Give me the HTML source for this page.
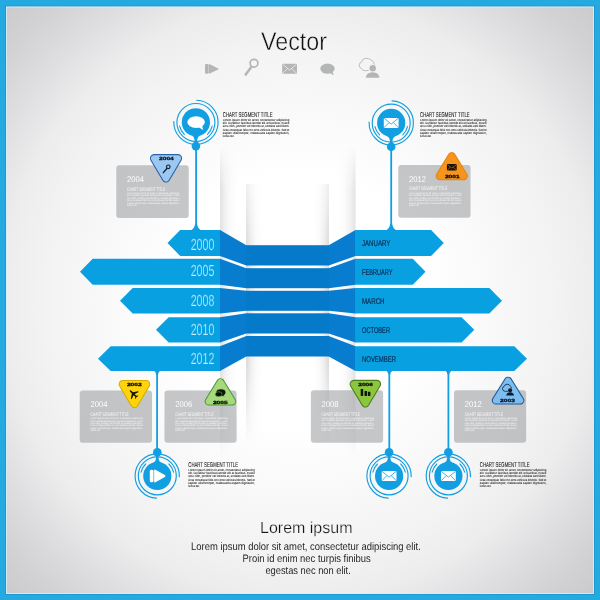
<!DOCTYPE html>
<html><head><meta charset="utf-8"><title>Vector</title>
<style>
html,body{margin:0;padding:0;width:600px;height:600px;overflow:hidden;background:#fff;}
svg{display:block}
text{font-family:"Liberation Sans",sans-serif;text-rendering:geometricPrecision;}
</style></head><body>
<svg width="600" height="600" viewBox="0 0 600 600" style="opacity:0.999">
<defs>
<radialGradient id="bg" cx="300" cy="300" r="424" gradientUnits="userSpaceOnUse">
<stop offset="0" stop-color="#ffffff"/>
<stop offset="0.30" stop-color="#ffffff"/>
<stop offset="0.45" stop-color="#f9f9f9"/>
<stop offset="0.58" stop-color="#f4f4f4"/>
<stop offset="0.70" stop-color="#ededee"/>
<stop offset="0.80" stop-color="#dfdfe1"/>
<stop offset="0.90" stop-color="#d2d2d4"/>
<stop offset="1" stop-color="#c9c9cb"/>
</radialGradient>
<linearGradient id="shR" x1="0" x2="1" y1="0" y2="0">
<stop offset="0" stop-color="#000" stop-opacity="0.115"/>
<stop offset="0.3" stop-color="#000" stop-opacity="0.055"/>
<stop offset="0.6" stop-color="#000" stop-opacity="0.018"/>
<stop offset="1" stop-color="#000" stop-opacity="0"/>
</linearGradient>
<linearGradient id="shL" x1="1" x2="0" y1="0" y2="0">
<stop offset="0" stop-color="#000" stop-opacity="0.115"/>
<stop offset="0.3" stop-color="#000" stop-opacity="0.055"/>
<stop offset="0.6" stop-color="#000" stop-opacity="0.018"/>
<stop offset="1" stop-color="#000" stop-opacity="0"/>
</linearGradient>
<linearGradient id="cR" x1="0" x2="1" y1="0" y2="0">
<stop offset="0" stop-color="#000" stop-opacity="0.16"/>
<stop offset="0.3" stop-color="#000" stop-opacity="0.075"/>
<stop offset="0.6" stop-color="#000" stop-opacity="0.025"/>
<stop offset="1" stop-color="#000" stop-opacity="0"/>
</linearGradient>
<linearGradient id="cL" x1="1" x2="0" y1="0" y2="0">
<stop offset="0" stop-color="#000" stop-opacity="0.16"/>
<stop offset="0.3" stop-color="#000" stop-opacity="0.075"/>
<stop offset="0.6" stop-color="#000" stop-opacity="0.025"/>
<stop offset="1" stop-color="#000" stop-opacity="0"/>
</linearGradient>
<linearGradient id="vfade" x1="0" x2="0" y1="146" y2="458" gradientUnits="userSpaceOnUse">
<stop offset="0" stop-color="#fff" stop-opacity="0"/>
<stop offset="0.07" stop-color="#fff" stop-opacity="0.55"/>
<stop offset="0.14" stop-color="#fff" stop-opacity="1"/>
<stop offset="0.74" stop-color="#fff" stop-opacity="1"/>
<stop offset="0.88" stop-color="#fff" stop-opacity="0.6"/>
<stop offset="1" stop-color="#fff" stop-opacity="0"/>
</linearGradient>
<mask id="mfold"><rect x="200" y="146" width="180" height="312" fill="url(#vfade)"/></mask>
<linearGradient id="vfade2" x1="0" x2="0" y1="184" y2="445" gradientUnits="userSpaceOnUse">
<stop offset="0" stop-color="#fff" stop-opacity="0.4"/>
<stop offset="0.23" stop-color="#fff" stop-opacity="0.9"/>
<stop offset="0.30" stop-color="#fff" stop-opacity="1"/>
<stop offset="0.66" stop-color="#fff" stop-opacity="1"/>
<stop offset="0.80" stop-color="#fff" stop-opacity="0.6"/>
<stop offset="1" stop-color="#fff" stop-opacity="0"/>
</linearGradient>
<mask id="mcen"><rect x="240" y="184" width="100" height="261" fill="url(#vfade2)"/></mask>
</defs>

<rect x="0" y="0" width="600" height="600" fill="#25a9e1"/>
<rect x="6" y="6.5" width="588" height="587.5" fill="url(#bg)"/>
<rect x="5.5" y="6" width="589" height="588.5" fill="none" stroke="#1b93cc" stroke-width="1" opacity="0.7"/>
<rect x="6.5" y="7" width="587" height="586.5" fill="none" stroke="#d6effa" stroke-width="1" opacity="0.8"/>
<g mask="url(#mfold)">
<rect x="220" y="146" width="17" height="312" fill="url(#shR)"/>
<rect x="338.5" y="146" width="17" height="312" fill="url(#shL)"/>
</g>
<g mask="url(#mcen)">
<rect x="246" y="184" width="83" height="261" fill="#fff"/>
<rect x="246" y="184" width="16" height="261" fill="url(#cR)"/>
<rect x="313" y="184" width="16" height="261" fill="url(#cL)"/>
</g>
<polygon points="167.5,242.95 180.2,230 220.3,230 220.3,255.9 180.2,255.9" fill="#09a0e2"/>
<polygon points="443.8,242.95 431.1,230 355.2,230 355.2,255.9 431.1,255.9" fill="#09a0e2"/>
<polygon points="220,230 246.3,245.2 246.3,265.5 220,255.9" fill="#087dcf"/>
<polygon points="355.5,230 328.7,245.2 328.7,265.5 355.5,255.9" fill="#087dcf"/>
<rect x="246" y="245.2" width="83" height="20.30000000000001" fill="#0579ca"/>
<polygon points="80,271.8 92.7,258.8 220.3,258.8 220.3,284.8 92.7,284.8" fill="#09a0e2"/>
<polygon points="425.5,271.8 412.8,258.8 355.2,258.8 355.2,284.8 412.8,284.8" fill="#09a0e2"/>
<polygon points="220,258.8 246.3,268.2 246.3,288.2 220,284.8" fill="#087dcf"/>
<polygon points="355.5,258.8 328.7,268.2 328.7,288.2 355.5,284.8" fill="#087dcf"/>
<rect x="246" y="268.2" width="83" height="20.0" fill="#0579ca"/>
<polygon points="120,300.8 132.7,288 220.3,288 220.3,313.6 132.7,313.6" fill="#09a0e2"/>
<polygon points="502,300.8 489.3,288 355.2,288 355.2,313.6 489.3,313.6" fill="#09a0e2"/>
<polygon points="220,288 246.3,290.8 246.3,310.8 220,313.6" fill="#087dcf"/>
<polygon points="355.5,288 328.7,290.8 328.7,310.8 355.5,313.6" fill="#087dcf"/>
<rect x="246" y="290.8" width="83" height="20.0" fill="#0579ca"/>
<polygon points="156,329.79999999999995 168.7,317.2 220.3,317.2 220.3,342.4 168.7,342.4" fill="#09a0e2"/>
<polygon points="474.3,329.79999999999995 461.6,317.2 355.2,317.2 355.2,342.4 461.6,342.4" fill="#09a0e2"/>
<polygon points="220,317.2 246.3,313.3 246.3,333.5 220,342.4" fill="#087dcf"/>
<polygon points="355.5,317.2 328.7,313.3 328.7,333.5 355.5,342.4" fill="#087dcf"/>
<rect x="246" y="313.3" width="83" height="20.19999999999999" fill="#0579ca"/>
<polygon points="98,358.65 110.7,346.2 220.3,346.2 220.3,371.1 110.7,371.1" fill="#09a0e2"/>
<polygon points="527,358.65 514.3,346.2 355.2,346.2 355.2,371.1 514.3,371.1" fill="#09a0e2"/>
<polygon points="220,346.2 246.3,336 246.3,356.5 220,371.1" fill="#087dcf"/>
<polygon points="355.5,346.2 328.7,336 328.7,356.5 355.5,371.1" fill="#087dcf"/>
<rect x="246" y="336" width="83" height="20.5" fill="#0579ca"/>
<text x="190.7" y="249.85" font-size="16" fill="#c4eefe" textLength="23.6" lengthAdjust="spacingAndGlyphs" stroke="#09a0e2" stroke-width="0.22">2000</text>
<text x="362" y="246.14999999999998" font-size="8.4" fill="#0b2c52" stroke="#0b2c52" stroke-width="0.2" textLength="28.3" lengthAdjust="spacingAndGlyphs">JANUARY</text>
<text x="190.7" y="275.75" font-size="16" fill="#c4eefe" textLength="23.6" lengthAdjust="spacingAndGlyphs" stroke="#09a0e2" stroke-width="0.22">2005</text>
<text x="362" y="275.0" font-size="8.4" fill="#0b2c52" stroke="#0b2c52" stroke-width="0.2" textLength="30.5" lengthAdjust="spacingAndGlyphs">FEBRUARY</text>
<text x="190.7" y="305.75" font-size="16" fill="#c4eefe" textLength="23.6" lengthAdjust="spacingAndGlyphs" stroke="#09a0e2" stroke-width="0.22">2008</text>
<text x="362" y="304.0" font-size="8.4" fill="#0b2c52" stroke="#0b2c52" stroke-width="0.2" textLength="22.5" lengthAdjust="spacingAndGlyphs">MARCH</text>
<text x="190.7" y="335.25" font-size="16" fill="#c4eefe" textLength="23.6" lengthAdjust="spacingAndGlyphs" stroke="#09a0e2" stroke-width="0.22">2010</text>
<text x="362" y="332.99999999999994" font-size="8.4" fill="#0b2c52" stroke="#0b2c52" stroke-width="0.2" textLength="28" lengthAdjust="spacingAndGlyphs">OCTOBER</text>
<text x="190.7" y="364.4" font-size="16" fill="#c4eefe" textLength="23.6" lengthAdjust="spacingAndGlyphs" stroke="#09a0e2" stroke-width="0.22">2012</text>
<text x="362" y="361.84999999999997" font-size="8.4" fill="#0b2c52" stroke="#0b2c52" stroke-width="0.2" textLength="34" lengthAdjust="spacingAndGlyphs">NOVEMBER</text>
<path d="M195.2,146 L195.2,223.0 Q195.0,227.9 191.1,230.3 L201.1,230.3 Q197.2,227.9 197.0,223.0 L197.0,146 Z" fill="#129fe2"/>
<path d="M390.3,147 L390.3,223.0 Q390.09999999999997,227.9 386.2,230.3 L396.2,230.3 Q392.3,227.9 392.09999999999997,223.0 L392.09999999999997,147 Z" fill="#129fe2"/>
<g transform="translate(195.9,122.3) rotate(180)">
<circle cx="0" cy="0" r="14.1" fill="#129fe2"/>
<circle cx="0" cy="-23.8" r="4.3" fill="#129fe2"/>
<path d="M-4.2,-13 Q-1.3,-14.6 -1.25,-17.8 L-1.25,-21 L1.25,-21 L1.25,-17.8 Q1.3,-14.6 4.2,-13 Z" fill="#129fe2"/>
<circle cx="0" cy="-0.2" r="19" fill="none" stroke="#129fe2" stroke-width="1.15"/>
<path d="M0.00,-22.10 A22.1,22.1 0 0 1 22.09,0.77" fill="none" stroke="#129fe2" stroke-width="1.15" stroke-linecap="round"/>
<path d="M0.00,-22.10 A22.1,22.1 0 0 0 -0.77,22.09" fill="none" stroke="#129fe2" stroke-width="1.15" stroke-linecap="round"/>
<path d="M-16.27,-3.76 A16.7,16.7 0 0 1 -11.60,-12.01" fill="none" stroke="#129fe2" stroke-width="1.1" stroke-linecap="round"/>
<path d="M11.60,-12.01 A16.7,16.7 0 0 1 16.27,-3.76" fill="none" stroke="#129fe2" stroke-width="1.1" stroke-linecap="round"/>
</g>
<g transform="translate(195.9,122.3)">
<ellipse cx="0.2" cy="-0.2" rx="8.8" ry="5.9" fill="#fff"/>
<path d="M2.4,4.6 L7.2,7.6 L6.2,3 Z" fill="#fff"/>
</g>
<g transform="translate(391.2,122.9) rotate(180)">
<circle cx="0" cy="0" r="14.1" fill="#129fe2"/>
<circle cx="0" cy="-23.8" r="4.3" fill="#129fe2"/>
<path d="M-4.2,-13 Q-1.3,-14.6 -1.25,-17.8 L-1.25,-21 L1.25,-21 L1.25,-17.8 Q1.3,-14.6 4.2,-13 Z" fill="#129fe2"/>
<circle cx="0" cy="-0.2" r="19" fill="none" stroke="#129fe2" stroke-width="1.15"/>
<path d="M0.00,-22.10 A22.1,22.1 0 0 1 22.09,0.77" fill="none" stroke="#129fe2" stroke-width="1.15" stroke-linecap="round"/>
<path d="M0.00,-22.10 A22.1,22.1 0 0 0 -0.77,22.09" fill="none" stroke="#129fe2" stroke-width="1.15" stroke-linecap="round"/>
<path d="M-16.27,-3.76 A16.7,16.7 0 0 1 -11.60,-12.01" fill="none" stroke="#129fe2" stroke-width="1.1" stroke-linecap="round"/>
<path d="M11.60,-12.01 A16.7,16.7 0 0 1 16.27,-3.76" fill="none" stroke="#129fe2" stroke-width="1.1" stroke-linecap="round"/>
</g>
<g transform="translate(391.2,122.9)">
<rect x="-7.4" y="-5" width="14.8" height="10" rx="0.8" fill="#fff"/>
<path d="M-7,-4.6 L0,1.2 L7,-4.6 M-7,4.6 L-2.2,-0.4 M7,4.6 L2.2,-0.4" fill="none" stroke="#129fe2" stroke-width="0.8"/>
</g>
<path d="M156.2,452 L156.2,375.1 Q156.0,372.3 154.1,370.8 L160.1,370.8 Q158.2,372.3 158.0,375.1 L158.0,452 Z" fill="#129fe2"/>
<path d="M388.40000000000003,452 L388.40000000000003,375.1 Q388.2,372.3 386.3,370.8 L392.3,370.8 Q390.40000000000003,372.3 390.2,375.1 L390.2,452 Z" fill="#129fe2"/>
<path d="M447.5,452 L447.5,375.1 Q447.29999999999995,372.3 445.4,370.8 L451.4,370.8 Q449.5,372.3 449.29999999999995,375.1 L449.29999999999995,452 Z" fill="#129fe2"/>
<g transform="translate(157.3,476) rotate(0)">
<circle cx="0" cy="0" r="14.1" fill="#129fe2"/>
<circle cx="0" cy="-23.8" r="4.3" fill="#129fe2"/>
<path d="M-4.2,-13 Q-1.3,-14.6 -1.25,-17.8 L-1.25,-21 L1.25,-21 L1.25,-17.8 Q1.3,-14.6 4.2,-13 Z" fill="#129fe2"/>
<circle cx="0" cy="-0.2" r="19" fill="none" stroke="#129fe2" stroke-width="1.15"/>
<path d="M0.00,-22.10 A22.1,22.1 0 0 1 22.09,0.77" fill="none" stroke="#129fe2" stroke-width="1.15" stroke-linecap="round"/>
<path d="M0.00,-22.10 A22.1,22.1 0 0 0 -0.77,22.09" fill="none" stroke="#129fe2" stroke-width="1.15" stroke-linecap="round"/>
<path d="M-16.27,-3.76 A16.7,16.7 0 0 1 -11.60,-12.01" fill="none" stroke="#129fe2" stroke-width="1.1" stroke-linecap="round"/>
<path d="M11.60,-12.01 A16.7,16.7 0 0 1 16.27,-3.76" fill="none" stroke="#129fe2" stroke-width="1.1" stroke-linecap="round"/>
</g>
<g transform="translate(157.3,476)">
<rect x="-7.5" y="-6.3" width="3.7" height="12.6" rx="1.5" fill="#fff"/>
<path d="M-3.2,-5.4 Q-3.2,-6.9 -1.9,-6.2 L7.6,-0.9 Q8.9,0 7.6,0.9 L-1.9,6.2 Q-3.2,6.9 -3.2,5.4 Z" fill="#fff"/>
</g>
<g transform="translate(389.1,476) rotate(0)">
<circle cx="0" cy="0" r="14.1" fill="#129fe2"/>
<circle cx="0" cy="-23.8" r="4.3" fill="#129fe2"/>
<path d="M-4.2,-13 Q-1.3,-14.6 -1.25,-17.8 L-1.25,-21 L1.25,-21 L1.25,-17.8 Q1.3,-14.6 4.2,-13 Z" fill="#129fe2"/>
<circle cx="0" cy="-0.2" r="19" fill="none" stroke="#129fe2" stroke-width="1.15"/>
<path d="M0.00,-22.10 A22.1,22.1 0 0 1 22.09,0.77" fill="none" stroke="#129fe2" stroke-width="1.15" stroke-linecap="round"/>
<path d="M0.00,-22.10 A22.1,22.1 0 0 0 -0.77,22.09" fill="none" stroke="#129fe2" stroke-width="1.15" stroke-linecap="round"/>
<path d="M-16.27,-3.76 A16.7,16.7 0 0 1 -11.60,-12.01" fill="none" stroke="#129fe2" stroke-width="1.1" stroke-linecap="round"/>
<path d="M11.60,-12.01 A16.7,16.7 0 0 1 16.27,-3.76" fill="none" stroke="#129fe2" stroke-width="1.1" stroke-linecap="round"/>
</g>
<g transform="translate(389.1,476)">
<rect x="-7.4" y="-5" width="14.8" height="10" rx="0.8" fill="#fff"/>
<path d="M-7,-4.6 L0,1.2 L7,-4.6 M-7,4.6 L-2.2,-0.4 M7,4.6 L2.2,-0.4" fill="none" stroke="#129fe2" stroke-width="0.8"/>
</g>
<g transform="translate(448.4,476) rotate(0)">
<circle cx="0" cy="0" r="14.1" fill="#129fe2"/>
<circle cx="0" cy="-23.8" r="4.3" fill="#129fe2"/>
<path d="M-4.2,-13 Q-1.3,-14.6 -1.25,-17.8 L-1.25,-21 L1.25,-21 L1.25,-17.8 Q1.3,-14.6 4.2,-13 Z" fill="#129fe2"/>
<circle cx="0" cy="-0.2" r="19" fill="none" stroke="#129fe2" stroke-width="1.15"/>
<path d="M0.00,-22.10 A22.1,22.1 0 0 1 22.09,0.77" fill="none" stroke="#129fe2" stroke-width="1.15" stroke-linecap="round"/>
<path d="M0.00,-22.10 A22.1,22.1 0 0 0 -0.77,22.09" fill="none" stroke="#129fe2" stroke-width="1.15" stroke-linecap="round"/>
<path d="M-16.27,-3.76 A16.7,16.7 0 0 1 -11.60,-12.01" fill="none" stroke="#129fe2" stroke-width="1.1" stroke-linecap="round"/>
<path d="M11.60,-12.01 A16.7,16.7 0 0 1 16.27,-3.76" fill="none" stroke="#129fe2" stroke-width="1.1" stroke-linecap="round"/>
</g>
<g transform="translate(448.4,476)">
<rect x="-7.4" y="-5" width="14.8" height="10" rx="0.8" fill="#fff"/>
<path d="M-7,-4.6 L0,1.2 L7,-4.6 M-7,4.6 L-2.2,-0.4 M7,4.6 L2.2,-0.4" fill="none" stroke="#129fe2" stroke-width="0.8"/>
</g>
<rect x="116.3" y="165.2" width="72.4" height="52.8" rx="3" fill="#9a9c9f" fill-opacity="0.56"/>
<text x="127.0" y="181.79999999999998" font-size="8.4" fill="#ffffff" textLength="17" lengthAdjust="spacingAndGlyphs">2004</text>
<text x="127.0" y="190.5" font-size="5" fill="#f8f8f8" textLength="38.4" lengthAdjust="spacingAndGlyphs">CHART SEGMENT TITLE</text>
<text x="127.0" y="193.90" font-size="2.3" fill="#fff" fill-opacity="0.92" textLength="52.4" lengthAdjust="spacingAndGlyphs">Lorem ipsum dolor sit amet, consectetur adipiscing</text>
<text x="127.0" y="196.36" font-size="2.3" fill="#fff" fill-opacity="0.92" textLength="52.4" lengthAdjust="spacingAndGlyphs">elit. Curabitur faucibus laoreet elit at faucibus. Fusce</text>
<text x="127.0" y="198.82" font-size="2.3" fill="#fff" fill-opacity="0.92" textLength="52.4" lengthAdjust="spacingAndGlyphs">arcu nibh, porttitor vel lobortis at, sodales sed libero.</text>
<text x="127.0" y="201.28" font-size="2.3" fill="#fff" fill-opacity="0.92" textLength="52.4" lengthAdjust="spacingAndGlyphs">Cras consequat felis non eros vehicula lobortis. Sed et</text>
<text x="127.0" y="203.74" font-size="2.3" fill="#fff" fill-opacity="0.92" textLength="52.4" lengthAdjust="spacingAndGlyphs">sapien ullamcorper, malesuada sapien dignissim,</text>
<text x="127.0" y="206.20" font-size="2.3" fill="#fff" fill-opacity="0.92" textLength="10" lengthAdjust="spacingAndGlyphs">luctus est.</text>
<rect x="398.3" y="165.0" width="72.2" height="52.8" rx="3" fill="#9a9c9f" fill-opacity="0.56"/>
<text x="409.0" y="181.6" font-size="8.4" fill="#ffffff" textLength="17" lengthAdjust="spacingAndGlyphs">2012</text>
<text x="409.0" y="190.3" font-size="5" fill="#f8f8f8" textLength="38.4" lengthAdjust="spacingAndGlyphs">CHART SEGMENT TITLE</text>
<text x="409.0" y="193.70" font-size="2.3" fill="#fff" fill-opacity="0.92" textLength="52.4" lengthAdjust="spacingAndGlyphs">Lorem ipsum dolor sit amet, consectetur adipiscing</text>
<text x="409.0" y="196.16" font-size="2.3" fill="#fff" fill-opacity="0.92" textLength="52.4" lengthAdjust="spacingAndGlyphs">elit. Curabitur faucibus laoreet elit at faucibus. Fusce</text>
<text x="409.0" y="198.62" font-size="2.3" fill="#fff" fill-opacity="0.92" textLength="52.4" lengthAdjust="spacingAndGlyphs">arcu nibh, porttitor vel lobortis at, sodales sed libero.</text>
<text x="409.0" y="201.08" font-size="2.3" fill="#fff" fill-opacity="0.92" textLength="52.4" lengthAdjust="spacingAndGlyphs">Cras consequat felis non eros vehicula lobortis. Sed et</text>
<text x="409.0" y="203.54" font-size="2.3" fill="#fff" fill-opacity="0.92" textLength="52.4" lengthAdjust="spacingAndGlyphs">sapien ullamcorper, malesuada sapien dignissim,</text>
<text x="409.0" y="206.00" font-size="2.3" fill="#fff" fill-opacity="0.92" textLength="10" lengthAdjust="spacingAndGlyphs">luctus est.</text>
<rect x="79.7" y="390.4" width="72.3" height="52.4" rx="3" fill="#9a9c9f" fill-opacity="0.56"/>
<text x="90.4" y="407.0" font-size="8.4" fill="#ffffff" textLength="17" lengthAdjust="spacingAndGlyphs">2004</text>
<text x="90.4" y="415.7" font-size="5" fill="#f8f8f8" textLength="38.4" lengthAdjust="spacingAndGlyphs">CHART SEGMENT TITLE</text>
<text x="90.4" y="419.10" font-size="2.3" fill="#fff" fill-opacity="0.92" textLength="52.4" lengthAdjust="spacingAndGlyphs">Lorem ipsum dolor sit amet, consectetur adipiscing</text>
<text x="90.4" y="421.56" font-size="2.3" fill="#fff" fill-opacity="0.92" textLength="52.4" lengthAdjust="spacingAndGlyphs">elit. Curabitur faucibus laoreet elit at faucibus. Fusce</text>
<text x="90.4" y="424.02" font-size="2.3" fill="#fff" fill-opacity="0.92" textLength="52.4" lengthAdjust="spacingAndGlyphs">arcu nibh, porttitor vel lobortis at, sodales sed libero.</text>
<text x="90.4" y="426.48" font-size="2.3" fill="#fff" fill-opacity="0.92" textLength="52.4" lengthAdjust="spacingAndGlyphs">Cras consequat felis non eros vehicula lobortis. Sed et</text>
<text x="90.4" y="428.94" font-size="2.3" fill="#fff" fill-opacity="0.92" textLength="52.4" lengthAdjust="spacingAndGlyphs">sapien ullamcorper, malesuada sapien dignissim,</text>
<text x="90.4" y="431.40" font-size="2.3" fill="#fff" fill-opacity="0.92" textLength="10" lengthAdjust="spacingAndGlyphs">luctus est.</text>
<rect x="164.5" y="390.4" width="72.1" height="52.4" rx="3" fill="#9a9c9f" fill-opacity="0.56"/>
<text x="175.2" y="407.0" font-size="8.4" fill="#ffffff" textLength="17" lengthAdjust="spacingAndGlyphs">2006</text>
<text x="175.2" y="415.7" font-size="5" fill="#f8f8f8" textLength="38.4" lengthAdjust="spacingAndGlyphs">CHART SEGMENT TITLE</text>
<text x="175.2" y="419.10" font-size="2.3" fill="#fff" fill-opacity="0.92" textLength="52.4" lengthAdjust="spacingAndGlyphs">Lorem ipsum dolor sit amet, consectetur adipiscing</text>
<text x="175.2" y="421.56" font-size="2.3" fill="#fff" fill-opacity="0.92" textLength="52.4" lengthAdjust="spacingAndGlyphs">elit. Curabitur faucibus laoreet elit at faucibus. Fusce</text>
<text x="175.2" y="424.02" font-size="2.3" fill="#fff" fill-opacity="0.92" textLength="52.4" lengthAdjust="spacingAndGlyphs">arcu nibh, porttitor vel lobortis at, sodales sed libero.</text>
<text x="175.2" y="426.48" font-size="2.3" fill="#fff" fill-opacity="0.92" textLength="52.4" lengthAdjust="spacingAndGlyphs">Cras consequat felis non eros vehicula lobortis. Sed et</text>
<text x="175.2" y="428.94" font-size="2.3" fill="#fff" fill-opacity="0.92" textLength="52.4" lengthAdjust="spacingAndGlyphs">sapien ullamcorper, malesuada sapien dignissim,</text>
<text x="175.2" y="431.40" font-size="2.3" fill="#fff" fill-opacity="0.92" textLength="10" lengthAdjust="spacingAndGlyphs">luctus est.</text>
<rect x="310.9" y="390.2" width="72.2" height="52.6" rx="3" fill="#9a9c9f" fill-opacity="0.56"/>
<text x="321.59999999999997" y="406.8" font-size="8.4" fill="#ffffff" textLength="17" lengthAdjust="spacingAndGlyphs">2008</text>
<text x="321.59999999999997" y="415.5" font-size="5" fill="#f8f8f8" textLength="38.4" lengthAdjust="spacingAndGlyphs">CHART SEGMENT TITLE</text>
<text x="321.59999999999997" y="418.90" font-size="2.3" fill="#fff" fill-opacity="0.92" textLength="52.4" lengthAdjust="spacingAndGlyphs">Lorem ipsum dolor sit amet, consectetur adipiscing</text>
<text x="321.59999999999997" y="421.36" font-size="2.3" fill="#fff" fill-opacity="0.92" textLength="52.4" lengthAdjust="spacingAndGlyphs">elit. Curabitur faucibus laoreet elit at faucibus. Fusce</text>
<text x="321.59999999999997" y="423.82" font-size="2.3" fill="#fff" fill-opacity="0.92" textLength="52.4" lengthAdjust="spacingAndGlyphs">arcu nibh, porttitor vel lobortis at, sodales sed libero.</text>
<text x="321.59999999999997" y="426.28" font-size="2.3" fill="#fff" fill-opacity="0.92" textLength="52.4" lengthAdjust="spacingAndGlyphs">Cras consequat felis non eros vehicula lobortis. Sed et</text>
<text x="321.59999999999997" y="428.74" font-size="2.3" fill="#fff" fill-opacity="0.92" textLength="52.4" lengthAdjust="spacingAndGlyphs">sapien ullamcorper, malesuada sapien dignissim,</text>
<text x="321.59999999999997" y="431.20" font-size="2.3" fill="#fff" fill-opacity="0.92" textLength="10" lengthAdjust="spacingAndGlyphs">luctus est.</text>
<rect x="454" y="390.2" width="72.1" height="52.6" rx="3" fill="#9a9c9f" fill-opacity="0.56"/>
<text x="464.7" y="406.8" font-size="8.4" fill="#ffffff" textLength="17" lengthAdjust="spacingAndGlyphs">2012</text>
<text x="464.7" y="415.5" font-size="5" fill="#f8f8f8" textLength="38.4" lengthAdjust="spacingAndGlyphs">CHART SEGMENT TITLE</text>
<text x="464.7" y="418.90" font-size="2.3" fill="#fff" fill-opacity="0.92" textLength="52.4" lengthAdjust="spacingAndGlyphs">Lorem ipsum dolor sit amet, consectetur adipiscing</text>
<text x="464.7" y="421.36" font-size="2.3" fill="#fff" fill-opacity="0.92" textLength="52.4" lengthAdjust="spacingAndGlyphs">elit. Curabitur faucibus laoreet elit at faucibus. Fusce</text>
<text x="464.7" y="423.82" font-size="2.3" fill="#fff" fill-opacity="0.92" textLength="52.4" lengthAdjust="spacingAndGlyphs">arcu nibh, porttitor vel lobortis at, sodales sed libero.</text>
<text x="464.7" y="426.28" font-size="2.3" fill="#fff" fill-opacity="0.92" textLength="52.4" lengthAdjust="spacingAndGlyphs">Cras consequat felis non eros vehicula lobortis. Sed et</text>
<text x="464.7" y="428.74" font-size="2.3" fill="#fff" fill-opacity="0.92" textLength="52.4" lengthAdjust="spacingAndGlyphs">sapien ullamcorper, malesuada sapien dignissim,</text>
<text x="464.7" y="431.20" font-size="2.3" fill="#fff" fill-opacity="0.92" textLength="10" lengthAdjust="spacingAndGlyphs">luctus est.</text>
<text x="222.8" y="116.7" font-size="7" fill="#1a1a1a" stroke="#1a1a1a" stroke-width="0.1" textLength="49.7" lengthAdjust="spacingAndGlyphs">CHART SEGMENT TITLE</text>
<text x="222.8" y="120.90" font-size="3.05" fill="#1c1c1c" stroke="#1c1c1c" stroke-width="0.05" textLength="66.6" lengthAdjust="spacingAndGlyphs">Lorem ipsum dolor sit amet, consectetur adipiscing</text>
<text x="222.8" y="124.18" font-size="3.05" fill="#1c1c1c" stroke="#1c1c1c" stroke-width="0.05" textLength="66.6" lengthAdjust="spacingAndGlyphs">elit. Curabitur faucibus laoreet elit at faucibus. Fusce</text>
<text x="222.8" y="127.46" font-size="3.05" fill="#1c1c1c" stroke="#1c1c1c" stroke-width="0.05" textLength="66.6" lengthAdjust="spacingAndGlyphs">arcu nibh, porttitor vel lobortis at, sodales sed libero.</text>
<text x="222.8" y="130.74" font-size="3.05" fill="#1c1c1c" stroke="#1c1c1c" stroke-width="0.05" textLength="66.6" lengthAdjust="spacingAndGlyphs">Cras consequat felis non eros vehicula lobortis. Sed et</text>
<text x="222.8" y="134.02" font-size="3.05" fill="#1c1c1c" stroke="#1c1c1c" stroke-width="0.05" textLength="66.6" lengthAdjust="spacingAndGlyphs">sapien ullamcorper, malesuada sapien dignissim,</text>
<text x="222.8" y="137.30" font-size="3.05" fill="#1c1c1c" stroke="#1c1c1c" stroke-width="0.05" textLength="11.5" lengthAdjust="spacingAndGlyphs">luctus est.</text>
<text x="420" y="116.7" font-size="7" fill="#1a1a1a" stroke="#1a1a1a" stroke-width="0.1" textLength="49.7" lengthAdjust="spacingAndGlyphs">CHART SEGMENT TITLE</text>
<text x="420" y="120.90" font-size="3.05" fill="#1c1c1c" stroke="#1c1c1c" stroke-width="0.05" textLength="66.6" lengthAdjust="spacingAndGlyphs">Lorem ipsum dolor sit amet, consectetur adipiscing</text>
<text x="420" y="124.18" font-size="3.05" fill="#1c1c1c" stroke="#1c1c1c" stroke-width="0.05" textLength="66.6" lengthAdjust="spacingAndGlyphs">elit. Curabitur faucibus laoreet elit at faucibus. Fusce</text>
<text x="420" y="127.46" font-size="3.05" fill="#1c1c1c" stroke="#1c1c1c" stroke-width="0.05" textLength="66.6" lengthAdjust="spacingAndGlyphs">arcu nibh, porttitor vel lobortis at, sodales sed libero.</text>
<text x="420" y="130.74" font-size="3.05" fill="#1c1c1c" stroke="#1c1c1c" stroke-width="0.05" textLength="66.6" lengthAdjust="spacingAndGlyphs">Cras consequat felis non eros vehicula lobortis. Sed et</text>
<text x="420" y="134.02" font-size="3.05" fill="#1c1c1c" stroke="#1c1c1c" stroke-width="0.05" textLength="66.6" lengthAdjust="spacingAndGlyphs">sapien ullamcorper, malesuada sapien dignissim,</text>
<text x="420" y="137.30" font-size="3.05" fill="#1c1c1c" stroke="#1c1c1c" stroke-width="0.05" textLength="11.5" lengthAdjust="spacingAndGlyphs">luctus est.</text>
<text x="188.3" y="466.5" font-size="7" fill="#1a1a1a" stroke="#1a1a1a" stroke-width="0.1" textLength="49.7" lengthAdjust="spacingAndGlyphs">CHART SEGMENT TITLE</text>
<text x="188.3" y="470.70" font-size="3.05" fill="#1c1c1c" stroke="#1c1c1c" stroke-width="0.05" textLength="66.6" lengthAdjust="spacingAndGlyphs">Lorem ipsum dolor sit amet, consectetur adipiscing</text>
<text x="188.3" y="473.98" font-size="3.05" fill="#1c1c1c" stroke="#1c1c1c" stroke-width="0.05" textLength="66.6" lengthAdjust="spacingAndGlyphs">elit. Curabitur faucibus laoreet elit at faucibus. Fusce</text>
<text x="188.3" y="477.26" font-size="3.05" fill="#1c1c1c" stroke="#1c1c1c" stroke-width="0.05" textLength="66.6" lengthAdjust="spacingAndGlyphs">arcu nibh, porttitor vel lobortis at, sodales sed libero.</text>
<text x="188.3" y="480.54" font-size="3.05" fill="#1c1c1c" stroke="#1c1c1c" stroke-width="0.05" textLength="66.6" lengthAdjust="spacingAndGlyphs">Cras consequat felis non eros vehicula lobortis. Sed et</text>
<text x="188.3" y="483.82" font-size="3.05" fill="#1c1c1c" stroke="#1c1c1c" stroke-width="0.05" textLength="66.6" lengthAdjust="spacingAndGlyphs">sapien ullamcorper, malesuada sapien dignissim,</text>
<text x="188.3" y="487.10" font-size="3.05" fill="#1c1c1c" stroke="#1c1c1c" stroke-width="0.05" textLength="11.5" lengthAdjust="spacingAndGlyphs">luctus est.</text>
<text x="479.8" y="466.5" font-size="7" fill="#1a1a1a" stroke="#1a1a1a" stroke-width="0.1" textLength="49.7" lengthAdjust="spacingAndGlyphs">CHART SEGMENT TITLE</text>
<text x="479.8" y="470.70" font-size="3.05" fill="#1c1c1c" stroke="#1c1c1c" stroke-width="0.05" textLength="66.6" lengthAdjust="spacingAndGlyphs">Lorem ipsum dolor sit amet, consectetur adipiscing</text>
<text x="479.8" y="473.98" font-size="3.05" fill="#1c1c1c" stroke="#1c1c1c" stroke-width="0.05" textLength="66.6" lengthAdjust="spacingAndGlyphs">elit. Curabitur faucibus laoreet elit at faucibus. Fusce</text>
<text x="479.8" y="477.26" font-size="3.05" fill="#1c1c1c" stroke="#1c1c1c" stroke-width="0.05" textLength="66.6" lengthAdjust="spacingAndGlyphs">arcu nibh, porttitor vel lobortis at, sodales sed libero.</text>
<text x="479.8" y="480.54" font-size="3.05" fill="#1c1c1c" stroke="#1c1c1c" stroke-width="0.05" textLength="66.6" lengthAdjust="spacingAndGlyphs">Cras consequat felis non eros vehicula lobortis. Sed et</text>
<text x="479.8" y="483.82" font-size="3.05" fill="#1c1c1c" stroke="#1c1c1c" stroke-width="0.05" textLength="66.6" lengthAdjust="spacingAndGlyphs">sapien ullamcorper, malesuada sapien dignissim,</text>
<text x="479.8" y="487.10" font-size="3.05" fill="#1c1c1c" stroke="#1c1c1c" stroke-width="0.05" textLength="11.5" lengthAdjust="spacingAndGlyphs">luctus est.</text>
<polygon points="154.10,158.30 177.90,158.30 166.00,178.40" fill="#2a62b0" stroke="#2a62b0" stroke-width="8.4" stroke-linejoin="round"/>
<polygon points="154.10,158.30 177.90,158.30 166.00,178.40" fill="#9cc8ef" stroke="#9cc8ef" stroke-width="6.2" stroke-linejoin="round"/>
<text x="159.0" y="159.9" font-size="4.5" font-weight="bold" fill="#0d1d33" stroke="#0d1d33" stroke-width="0.3" textLength="14.8" lengthAdjust="spacingAndGlyphs">2004</text>
<circle cx="168.3" cy="166.8" r="1.8" fill="none" stroke="#0d1d33" stroke-width="1.1"/>
<path d="M166.9,168.5 L163.3,172.7" stroke="#0d1d33" stroke-width="1.3" stroke-linecap="round"/>
<polygon points="451.75,156.30 463.70,176.10 439.80,176.10" fill="#e5850f" stroke="#e5850f" stroke-width="8.4" stroke-linejoin="round"/>
<polygon points="451.75,156.30 463.70,176.10 439.80,176.10" fill="#f7941d" stroke="#f7941d" stroke-width="6.2" stroke-linejoin="round"/>
<text x="444.90000000000003" y="177.60000000000002" font-size="4.5" font-weight="bold" fill="#1a1206" stroke="#1a1206" stroke-width="0.3" textLength="14.8" lengthAdjust="spacingAndGlyphs">2001</text>
<rect x="446.9" y="164.1" width="9.8" height="6.4" rx="0.8" fill="#1a1206"/>
<path d="M447.4,164.8 L451.8,168 L456.2,164.8 M447.4,170 L450.3,167.2 M456.2,170 L453.3,167.2" fill="none" stroke="#f7941d" stroke-width="0.5"/>
<polygon points="122.80,384.20 146.10,384.20 134.45,403.90" fill="#d9ad00" stroke="#d9ad00" stroke-width="8.4" stroke-linejoin="round"/>
<polygon points="122.80,384.20 146.10,384.20 134.45,403.90" fill="#ffd40d" stroke="#ffd40d" stroke-width="6.2" stroke-linejoin="round"/>
<text x="126.9" y="385.6" font-size="4.5" font-weight="bold" fill="#1a1500" stroke="#1a1500" stroke-width="0.3" textLength="14.8" lengthAdjust="spacingAndGlyphs">2002</text>
<g transform="translate(133.4,393.9) rotate(-45) scale(0.56)"><path d="M0,-9 Q1.2,-9 1.4,-6.5 L1.4,-2.5 L9,2.5 L9,4.3 L1.4,1.8 L1.2,6 L3.6,7.8 L3.6,9 L0,8 L-3.6,9 L-3.6,7.8 L-1.2,6 L-1.4,1.8 L-9,4.3 L-9,2.5 L-1.4,-2.5 L-1.4,-6.5 Q-1.2,-9 0,-9 Z" fill="#1a1500"/></g>
<polygon points="220.45,382.35 232.10,401.40 208.80,401.40" fill="#4f9a3c" stroke="#4f9a3c" stroke-width="8.4" stroke-linejoin="round"/>
<polygon points="220.45,382.35 232.10,401.40 208.80,401.40" fill="#a5d97c" stroke="#a5d97c" stroke-width="6.2" stroke-linejoin="round"/>
<text x="212.9" y="403.7" font-size="4.5" font-weight="bold" fill="#0a1505" stroke="#0a1505" stroke-width="0.3" textLength="14.8" lengthAdjust="spacingAndGlyphs">2005</text>
<ellipse cx="220.9" cy="392.4" rx="4.6" ry="3.1" fill="#0a1505"/>
<ellipse cx="218.7" cy="394.2" rx="3.5" ry="2.5" fill="#0a1505" stroke="#a5d97c" stroke-width="0.45"/>
<path d="M222.5,394.5 L224.6,396.6 L221.2,395.6 Z" fill="#0a1505"/>
<polygon points="353.80,384.05 376.90,384.05 365.35,403.40" fill="#4d7c1f" stroke="#4d7c1f" stroke-width="8.4" stroke-linejoin="round"/>
<polygon points="353.80,384.05 376.90,384.05 365.35,403.40" fill="#8cc63f" stroke="#8cc63f" stroke-width="6.2" stroke-linejoin="round"/>
<text x="358.20000000000005" y="385.6" font-size="4.5" font-weight="bold" fill="#0f1a05" stroke="#0f1a05" stroke-width="0.3" textLength="14.8" lengthAdjust="spacingAndGlyphs">2006</text>
<rect x="360.7" y="389.1" width="2.5" height="6.8" rx="0.3" fill="#0f1a05"/>
<rect x="364.5" y="391" width="2.6" height="4.9" rx="0.3" fill="#0f1a05"/>
<rect x="367.9" y="391.7" width="2.5" height="4.2" rx="0.3" fill="#0f1a05"/>
<polygon points="508.07,380.85 520.20,400.40 495.95,400.40" fill="#1e5a9a" stroke="#1e5a9a" stroke-width="8.4" stroke-linejoin="round"/>
<polygon points="508.07,380.85 520.20,400.40 495.95,400.40" fill="#7fbdee" stroke="#7fbdee" stroke-width="6.2" stroke-linejoin="round"/>
<text x="500.1" y="401.90000000000003" font-size="4.5" font-weight="bold" fill="#0a1c33" stroke="#0a1c33" stroke-width="0.3" textLength="14.8" lengthAdjust="spacingAndGlyphs">2003</text>
<path d="M508.2,391.3 L504.8,391.3 Q502.3,390.8 502.5,388.5 Q502.6,386.7 504.2,386.4 Q504.6,384.3 507,384.2 Q509.4,384.1 510.2,386 Q511.6,386.6 511.3,388.4" fill="none" stroke="#0a1c33" stroke-width="0.75"/>
<circle cx="510.1" cy="390.2" r="2" fill="#0a1c33"/>
<path d="M506.2,395.5 Q506.4,392.5 510.1,392.3 Q513.8,392.5 514,395.5 Z" fill="#0a1c33"/>
<text x="261" y="49.7" font-size="25.6" fill="#111" textLength="66" lengthAdjust="spacingAndGlyphs" stroke="#fcfcfc" stroke-width="0.4">Vector</text>
<rect x="205" y="64" width="3.7" height="9.8" rx="1.3" fill="#b4b5b6"/>
<path d="M209,64.6 Q209,63.8 209.8,64.2 L218.2,68.4 Q218.9,68.9 218.2,69.4 L209.8,73.6 Q209,74 209,73.2 Z" fill="#b4b5b6"/>
<circle cx="254" cy="63.2" r="3.9" fill="none" stroke="#b4b5b6" stroke-width="1.7"/>
<path d="M251.3,67 L245.7,74.6" stroke="#b4b5b6" stroke-width="2.5" stroke-linecap="round"/>
<rect x="282.2" y="63.8" width="14.8" height="10" rx="0.8" fill="#b4b5b6"/>
<path d="M282.8,64.4 L289.6,70 L296.4,64.4 M282.8,73.2 L287.4,68.6 M296.4,73.2 L291.8,68.6" fill="none" stroke="#f6f6f6" stroke-width="0.7"/>
<ellipse cx="327.5" cy="68.6" rx="7.2" ry="5.2" fill="#b4b5b6"/>
<path d="M329.5,72.5 L333.6,75.4 L332.6,71 Z" fill="#b4b5b6"/>
<path d="M368.6,70.5 L365.4,70.7 Q362.6,70.8 361.6,68.7 Q358.8,67.6 359.2,64.8 Q359.6,62.4 361.7,62 Q362.2,59 365.2,58.4 Q369,57.8 371.2,60.2 Q374,61.2 374.4,64.8" fill="none" stroke="#b4b5b6" stroke-width="0.9"/>
<circle cx="372.7" cy="68.2" r="3.2" fill="#b4b5b6"/>
<path d="M365.8,77.8 Q366,72.6 372.7,72.2 Q379.2,72.6 379.4,77.8 Z" fill="#b4b5b6"/>
<text x="260" y="532.9" font-size="16" fill="#111" textLength="92.5" lengthAdjust="spacingAndGlyphs" stroke="#fbfbfb" stroke-width="0.25">Lorem ipsum</text>
<text x="191" y="550" font-size="10.8" fill="#262626" textLength="229.8" lengthAdjust="spacingAndGlyphs">Lorem ipsum dolor sit amet, consectetur adipiscing elit.</text>
<text x="242.5" y="562" font-size="10.8" fill="#262626" textLength="128.3" lengthAdjust="spacingAndGlyphs">Proin id enim nec turpis finibus</text>
<text x="265.4" y="573.6" font-size="10.8" fill="#262626" textLength="85.4" lengthAdjust="spacingAndGlyphs">egestas nec non elit.</text>
</svg></body></html>
